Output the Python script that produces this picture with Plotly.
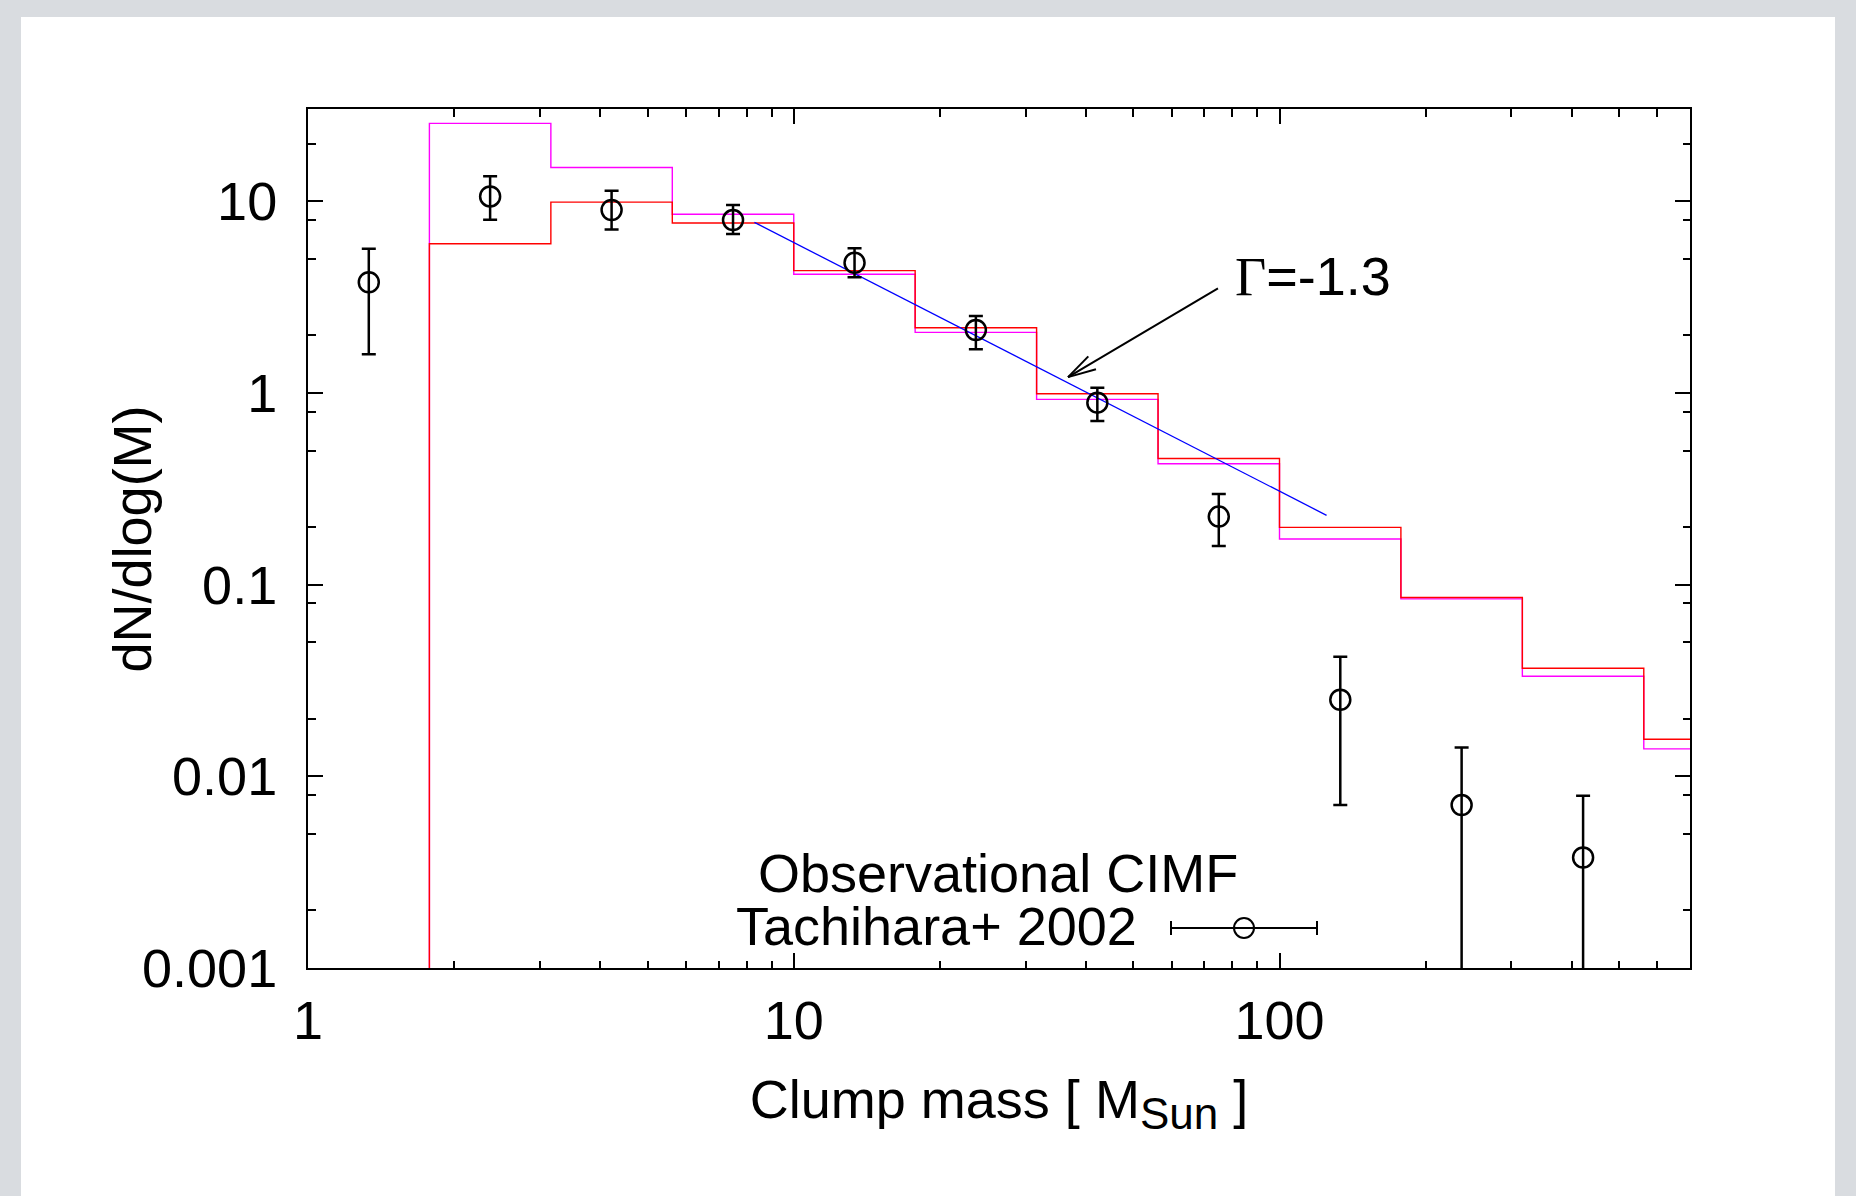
import math
import plotly.graph_objects as go

# ---------------- data ----------------
bin_edges = [1.778, 3.162, 5.623, 10.0, 17.78, 31.62, 56.23, 100.0, 177.8, 316.2, 562.3, 1000.0]
red_hist = [6.0, 9.9, 7.7, 4.35, 2.19, 0.99, 0.455, 0.199, 0.0857, 0.0366, 0.0156]
magenta_hist = [25.5, 15.0, 8.55, 4.16, 2.07, 0.926, 0.427, 0.173, 0.0843, 0.0333, 0.0139]

obs_mass = [1.334, 2.371, 4.217, 7.499, 13.34, 23.71, 42.17, 74.99, 133.4, 237.1, 421.7]
obs_dn = [3.78, 10.6, 9.0, 7.98, 4.78, 2.13, 0.89, 0.2265, 0.0251, 0.00708, 0.00377]
obs_hi = [5.65, 13.5, 11.34, 9.56, 5.68, 2.52, 1.066, 0.297, 0.0421, 0.01415, 0.00792]
obs_lo = [1.59, 8.01, 7.13, 6.74, 4.01, 1.69, 0.714, 0.159, 0.00708, 0.0, 0.0]

fit_mass = [8.3, 125.0]
fit_dn = [7.76, 0.23]

# arrow of the slope label: head and tail (mass, dN/dlogM)
arrow_head = (36.7, 1.21)
arrow_tail = (74.7, 3.51)
slope_label = "<span style='font-family:Liberation Serif'>Γ</span>=-1.3"
slope_label_pos = (80.2, 4.03)

x_tickvals = [1, 10, 100]
x_ticktext = ["1", "10", "100"]
y_tickvals = [0.001, 0.01, 0.1, 1, 10]
y_ticktext = ["0.001", "0.01", "0.1", "1", "10"]
x_minor = [m * d for d in (1, 10, 100) for m in range(2, 10)]
y_minor = [m * d for d in (0.001, 0.01, 0.1, 1, 10) for m in (2, 5, 8)]

FLOOR = 1e-5
FONT = "Liberation Sans, Arial, Helvetica, sans-serif"
FS = 54


def step_xy(edges, vals):
    xs = [edges[0]] + list(edges[:-1]) + [edges[-1]]
    ys = [FLOOR] + list(vals) + [vals[-1]]
    return xs, ys


fig = go.Figure()

mx, my = step_xy(bin_edges, magenta_hist)
fig.add_trace(go.Scatter(x=mx, y=my, mode="lines", line=dict(color="#ff00ff", width=1.4, shape="hv"),
                         showlegend=False, hoverinfo="skip"))
rx, ry = step_xy(bin_edges, red_hist)
fig.add_trace(go.Scatter(x=rx, y=ry, mode="lines", line=dict(color="#ff0000", width=1.4, shape="hv"),
                         showlegend=False, hoverinfo="skip"))

fig.add_trace(go.Scatter(x=fit_mass, y=fit_dn, mode="lines", line=dict(color="#0000ff", width=1.3),
                         showlegend=False, hoverinfo="skip"))

err_plus = [h - v for h, v in zip(obs_hi, obs_dn)]
err_minus = [v - l for v, l in zip(obs_dn, obs_lo)]
fig.add_trace(go.Scatter(
    x=obs_mass, y=obs_dn, mode="markers",
    marker=dict(symbol="circle-open", size=20, color="black", line=dict(width=2.5, color="black")),
    error_y=dict(type="data", symmetric=False, array=err_plus, arrayminus=err_minus,
                 color="black", thickness=2.5, width=7),
    showlegend=False))

X0, X1 = 0.0, math.log10(700)
Y0, Y1 = -3.0, math.log10(30.3)

W, H = 1856, 1196
L, R, T, B = 308, 1690, 109, 968
pw, ph = R - L, B - T

axis_common = dict(
    type="log", showline=True, linewidth=2, linecolor="black", mirror="allticks",
    ticks="inside", ticklen=15, tickwidth=2, tickcolor="black",
    showgrid=False, zeroline=False,
    tickfont=dict(family=FONT, size=FS, color="black"),
)

fig.update_xaxes(
    **axis_common, range=[X0, X1], tickmode="array", tickvals=x_tickvals, ticktext=x_ticktext,
    ticklabelstandoff=4,
    minor=dict(ticks="inside", ticklen=7.5, tickwidth=2, tickcolor="black",
               tickmode="array", tickvals=x_minor, showgrid=False),
    title=dict(text="Clump mass [ M<sub><span style='font-size:44px'>Sun</span></sub> ]",
               font=dict(family=FONT, size=FS, color="black"), standoff=31),
)
fig.update_yaxes(
    **axis_common, range=[Y0, Y1], tickmode="array", tickvals=y_tickvals, ticktext=y_ticktext,
    ticklabelstandoff=18,
    minor=dict(ticks="inside", ticklen=7.5, tickwidth=2, tickcolor="black",
               tickmode="array", tickvals=y_minor, showgrid=False),
)


def px(xp):
    return (xp - L) / pw


def py(yp):
    return (B - yp) / ph


def to_screen(m, v):
    sx = L + (math.log10(m) - X0) / (X1 - X0) * pw
    sy = B - (math.log10(v) - Y0) / (Y1 - Y0) * ph
    return sx, sy


# arrow head barbs (open "V"), computed from the arrow direction
hx, hy = to_screen(*arrow_head)
tx, ty = to_screen(*arrow_tail)
ang = math.atan2(-(ty - hy), tx - hx)  # up-positive angle from head to tail
barb_len, barb_spread = 29, math.radians(15)
barbs = []
for s in (-1, 1):
    a = ang + s * barb_spread
    barbs.append((barb_len * math.cos(a), barb_len * math.sin(a)))

shapes = [
    dict(type="rect", xref="paper", yref="paper", x0=px(21), x1=px(1835), y0=py(1200), y1=py(17),
         fillcolor="white", line=dict(width=0), layer="below"),
    # arrow shaft
    dict(type="line", xref="x", yref="y",
         x0=arrow_tail[0], y0=arrow_tail[1], x1=arrow_head[0], y1=arrow_head[1],
         line=dict(color="black", width=2)),
]
for bx, by in barbs:
    shapes.append(dict(type="line", xref="x", yref="y", xsizemode="pixel", ysizemode="pixel",
                       xanchor=arrow_head[0], yanchor=arrow_head[1],
                       x0=0, y0=0, x1=bx, y1=by, line=dict(color="black", width=2)))

shapes += [
    # legend key: horizontal error bar with circle
    dict(type="line", xref="paper", yref="paper", x0=px(1171), x1=px(1317), y0=py(928), y1=py(928),
         line=dict(color="black", width=2)),
    dict(type="line", xref="paper", yref="paper", ysizemode="pixel",
         x0=px(1171), x1=px(1171), yanchor=py(928), y0=-7, y1=7, line=dict(color="black", width=2)),
    dict(type="line", xref="paper", yref="paper", ysizemode="pixel",
         x0=px(1317), x1=px(1317), yanchor=py(928), y0=-7, y1=7, line=dict(color="black", width=2)),
    dict(type="circle", xref="paper", yref="paper", xsizemode="pixel", ysizemode="pixel",
         xanchor=px(1244), yanchor=py(928), x0=-10, x1=10, y0=-10, y1=10,
         line=dict(color="black", width=2), fillcolor="rgba(0,0,0,0)"),
]

annotations = [
    dict(xref="paper", yref="paper", x=px(131), y=0.5, text="dN/dlog(M)", textangle=-90,
         showarrow=False, xanchor="center", yanchor="middle",
         font=dict(family=FONT, size=FS, color="black")),
    dict(xref="paper", yref="paper", x=px(998), y=py(873), text="Observational CIMF",
         showarrow=False, xanchor="center", yanchor="middle",
         font=dict(family=FONT, size=FS, color="black")),
    dict(xref="paper", yref="paper", x=px(1139), y=py(926), text="Tachihara+ 2002",
         showarrow=False, xanchor="right", yanchor="middle",
         font=dict(family=FONT, size=FS, color="black")),
    dict(xref="x", yref="y", x=math.log10(slope_label_pos[0]), y=math.log10(slope_label_pos[1]),
         text=slope_label, showarrow=False, xanchor="left", yanchor="middle",
         font=dict(family=FONT, size=FS, color="black")),
]

fig.update_layout(
    width=W, height=H,
    margin=dict(l=L, r=W - R, t=T, b=H - B),
    paper_bgcolor="#d9dce0", plot_bgcolor="white",
    shapes=shapes, annotations=annotations,
    showlegend=False,
    font=dict(family=FONT, size=FS, color="black"),
)

fig.write_html("out.html")
